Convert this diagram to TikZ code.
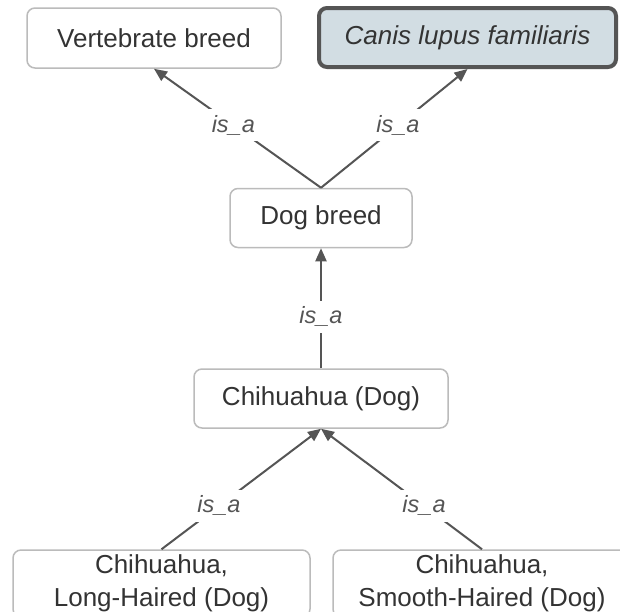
\documentclass[tikz,border=0pt]{standalone}
\usepackage{fontspec}
\setmainfont{Liberation Sans}
\usetikzlibrary{arrows.meta}
\definecolor{boxline}{HTML}{BBBBBB}
\definecolor{txt}{HTML}{333333}
\definecolor{edgec}{HTML}{555555}
\definecolor{hlfill}{HTML}{D2DDE3}
\begin{document}
\begin{tikzpicture}[x=1pt,y=-1pt,
  box/.style={draw=boxline, line width=1.5pt, rounded corners=8pt, fill=white, text=txt,
    font=\fontsize{26}{33}\selectfont, align=center, inner sep=0pt},
  hl/.style={draw=edgec, line width=4pt, fill=hlfill, text=txt},
  rel/.style={draw=edgec, line width=2pt, -{Triangle[length=13pt,width=11pt]}},
  lbl/.style={fill=white, text=edgec, font=\fontsize{23.5}{28}\selectfont\itshape, inner sep=6pt}]
\useasboundingbox (0,0) rectangle (620,611);
\clip (0,0) rectangle (620,611);
\fill[white] (0,0) rectangle (620,611);
\node[box, minimum width=254pt, minimum height=60pt] (vb) at (154,38) {Vertebrate breed};
\node[box, hl, minimum width=297pt, minimum height=59pt] (clf) at (467.5,37.5) {\itshape Canis lupus familiaris};
\node[box, minimum width=182pt, minimum height=59pt] (db) at (321,218) {Dog breed};
\node[box, minimum width=254pt, minimum height=59pt] (ch) at (321,398.5) {Chihuahua (Dog)};
\node[box, minimum width=297pt, minimum height=67pt] (lh) at (161.5,583.5) {Chihuahua,\\Long-Haired (Dog)};
\node[box, minimum width=298pt, minimum height=67pt] (sh) at (482,583.5) {Chihuahua,\\Smooth-Haired (Dog)};
\draw[rel] (db.north) -- node[lbl, pos=0.525] {is\_a} (vb.south);
\draw[rel] (db.north) -- node[lbl, pos=0.525] {is\_a} (clf.south);
\draw[rel] (ch.north) -- node[lbl, pos=0.43] {is\_a} (db.south);
\draw[rel] (lh.north) -- node[lbl, pos=0.36] {is\_a} (ch.south);
\draw[rel] (sh.north) -- node[lbl, pos=0.36] {is\_a} (ch.south);
\end{tikzpicture}
\end{document}
